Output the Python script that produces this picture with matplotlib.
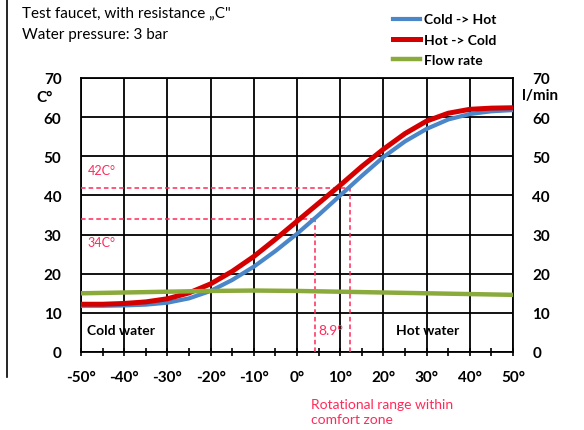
import matplotlib.pyplot as plt
from matplotlib.lines import Line2D

plt.rcParams["font.family"] = ["Lato", "DejaVu Sans"]

# handle rotation in degrees, read every 5 degrees
angles = [-50, -45, -40, -35, -30, -25, -20, -15, -10, -5, 0,
          5, 10, 15, 20, 25, 30, 35, 40, 45, 50]
cold_to_hot = [11.8, 11.8, 11.9, 12.1, 12.6, 13.7, 15.6, 18.4, 21.8, 25.8, 30.2,
               35.0, 40.0, 45.0, 49.8, 53.8, 57.0, 59.4, 60.8, 61.5, 61.8]
hot_to_cold = [12.2, 12.2, 12.4, 12.8, 13.6, 15.1, 17.4, 20.6, 24.4, 28.8, 33.4,
               38.0, 42.6, 47.4, 51.8, 55.8, 59.0, 61.0, 62.0, 62.3, 62.4]

flow_angles = [-50, -40, -30, -20, -10, 0, 10, 20, 30, 40, 50]
flow_rate = [15.0, 15.2, 15.4, 15.6, 15.7, 15.6, 15.4, 15.2, 15.0, 14.8, 14.6]

# comfort zone: 34C at 4.2 deg, 42C at 12.3 deg
comfort_temps = [34, 42]
comfort_angles = [4.2, 12.3]

x_ticks = list(range(-50, 51, 10))
x_labels = [f"{v}°" for v in x_ticks]
y_ticks = list(range(0, 71, 10))

BLUE = "#4a86c8"
RED = "#d40000"
GREEN = "#8aaa3c"
PINK = "#ff2a5a"

fig = plt.figure(figsize=(5.84, 4.31), dpi=100)
ax = fig.add_axes([81 / 584, 1 - 353 / 431, 432 / 584, 274 / 431])

ax.plot(angles, cold_to_hot, color=BLUE, lw=3.0, solid_capstyle="butt", zorder=4)
ax.plot(angles, hot_to_cold, color=RED, lw=3.6, solid_capstyle="butt", zorder=5)

# comfort zone guide lines
for t, a in zip(comfort_temps, comfort_angles):
    ax.plot([-50, a], [t, t], color=PINK, lw=1.1, ls=(0, (3, 2)), zorder=3)
    ax.plot([a, a], [0, t], color=PINK, lw=1.1, ls=(0, (3, 2)), zorder=3)

ax.set_xlim(-50, 50)
ax.set_ylim(0, 70)
ax.set_xticks(x_ticks)
ax.set_xticklabels(x_labels)
ax.set_xticks(list(range(-45, 50, 10)), minor=True)
ax.set_yticks(y_ticks)
ax.grid(True, color="black", lw=1.3)
ax.set_axisbelow(True)
for s in ax.spines.values():
    s.set_linewidth(1.3)
ax.tick_params(axis="x", which="both", direction="inout", length=6, width=1.2,
               pad=10, labelsize=11)
ax.tick_params(axis="y", length=0, pad=14, labelsize=11)
for lab in ax.get_xticklabels() + ax.get_yticklabels():
    lab.set_fontweight("bold")

ax2 = ax.twinx()
ax2.plot(flow_angles, flow_rate, color=GREEN, lw=3.2, zorder=6)
ax2.set_ylim(0, 70)
ax2.set_yticks(y_ticks)
ax2.tick_params(axis="y", length=0, pad=14, labelsize=11)
for lab in ax2.get_yticklabels():
    lab.set_fontweight("bold")
for s in ax2.spines.values():
    s.set_visible(False)

# in-plot annotations
ax.text(-48.5, 5.5, "Cold water", fontsize=10, fontweight="bold", va="center")
ax.text(23, 5.5, "Hot water", fontsize=10, fontweight="bold", va="center")
ax.text(7.8, 5.5, "8.9°", fontsize=10, color=PINK, ha="center", va="center")
ax.text(-48.5, 46.5, "42C°", fontsize=9, color=PINK, va="center")
ax.text(-48.5, 28, "34C°", fontsize=9, color=PINK, va="center")

# header texts
fig.text(22 / 584, 1 - 14 / 431, "Test faucet, with resistance „C\"", fontsize=11,
         va="center")
fig.text(22 / 584, 1 - 35 / 431, "Water pressure: 3 bar", fontsize=11, va="center")
fig.text(36 / 584, 1 - 98 / 431, "C°", fontsize=11, fontweight="bold", va="center")
fig.text(522 / 584, 1 - 96 / 431, "l/min", fontsize=11, fontweight="bold", va="center")
fig.text(311 / 584, 1 - 413 / 431, "Rotational range within\ncomfort zone",
         fontsize=10, color=PINK, va="center", linespacing=1.3)

# left frame line of the original figure
fig.add_artist(Line2D([7 / 584, 7 / 584], [1 - 378 / 431, 1], color="black", lw=1.2))

handles = [
    Line2D([], [], color=BLUE, lw=3.0),
    Line2D([], [], color=RED, lw=3.6),
    Line2D([], [], color=GREEN, lw=3.2),
]
fig.legend(handles, ["Cold -> Hot", "Hot -> Cold", "Flow rate"],
           loc="upper left", bbox_to_anchor=(380 / 584, 1 - 2 / 431),
           frameon=False, handlelength=2.0, handletextpad=0.3, labelspacing=0.6,
           prop={"weight": "bold", "size": 10})

fig.savefig("out.png", dpi=100)
